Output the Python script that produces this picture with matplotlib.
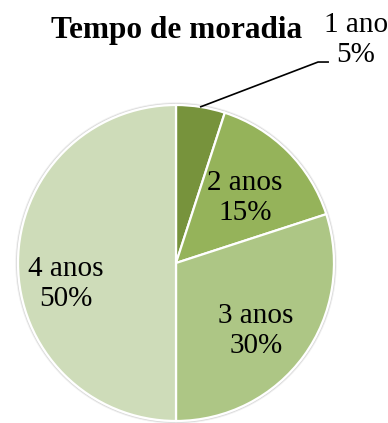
import matplotlib
matplotlib.use("Agg")
import matplotlib.pyplot as plt
from matplotlib.patches import Circle

plt.rcParams['font.family'] = ['Liberation Serif', 'DejaVu Serif']

title = "Tempo de moradia"
categories = ["1 ano", "2 anos", "3 anos", "4 anos"]
shares = [5, 15, 30, 50]
colors = ["#77933C", "#95B35A", "#ADC685", "#CEDCB9"]

W, H = 388, 423
fig = plt.figure(figsize=(W / 100, H / 100), dpi=100)
cx, cy, r = 176, 263, 158
ax = fig.add_axes([(cx - r) / W, (H - cy - r) / H, 2 * r / W, 2 * r / H])

wedges, _ = ax.pie(shares, colors=colors, startangle=90, counterclock=False,
                   radius=1, wedgeprops=dict(edgecolor='white', linewidth=1.6))

ax.set_xlim(-1, 1)
ax.set_ylim(-1, 1)
ax.set_aspect('equal')
ax.axis('off')

# soft shadow ring around the pie
for rad, a in [(1.012, 0.12), (1.006, 0.25)]:
    ax.add_patch(Circle((0, 0), rad, facecolor='none', edgecolor='#888888',
                        lw=1.2, alpha=a, zorder=0, clip_on=False))

labels = [f"{c}\n{v}%" for c, v in zip(categories, shares)]
fs = 21
# label placements (data units)
pos = [(1.14, 1.41), (0.437, 0.411), (0.506, -0.43), (-0.696, -0.133)]
for (x, y), t in zip(pos, labels):
    ax.text(x, y, t, ha='center', va='center', fontsize=fs, linespacing=1.2,
            clip_on=False)

# leader line for the small slice
ax.plot([0.152, 0.899, 0.968], [0.987, 1.272, 1.272], color='black', lw=1.2,
        clip_on=False, solid_capstyle='butt')

fig.text(176.5 / W, 1 - 38 / H, title, ha='center', va='baseline',
         fontsize=22.5, fontweight='bold')

fig.savefig("out.png", dpi=100)
